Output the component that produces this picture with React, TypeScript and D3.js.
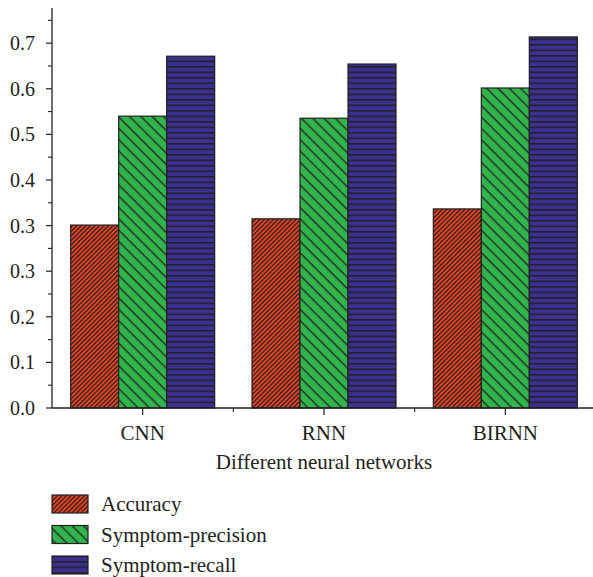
import React from 'react';
import * as d3 from 'd3';

const categories = ['CNN', 'RNN', 'BIRNN'];
const seriesNames = ['Accuracy', 'Symptom-precision', 'Symptom-recall'];
const accuracy = [0.351, 0.363, 0.382];
const precision = [0.560, 0.556, 0.614];
const recall = [0.675, 0.660, 0.712];
const yTickValues = [0, 0.0875, 0.175, 0.2625, 0.35, 0.4375, 0.525, 0.6125, 0.7];
const yTickLabels = ['0.0', '0.1', '0.2', '0.3', '0.3', '0.4', '0.5', '0.6', '0.7'];

const fills = ['#ee4524', '#32b44c', '#3b3192'];
const patternIds = ['hatch-acc', 'hatch-prec', 'hatch-rec'];
const font = '"Liberation Serif", "DejaVu Serif", serif';

const App: React.FC = () => {
    document.body.style.margin = '0';

    const width = 593;
    const height = 577;
    const plot = { left: 52, right: 596, top: 8, bottom: 408 };

    const y = d3.scaleLinear().domain([0, 0.7675]).range([plot.bottom, plot.top]);
    const x0 = d3.scaleBand().domain(categories).range([plot.left, plot.right]).padding(0);
    const groupWidth = 144;
    const x1 = d3.scaleBand().domain(seriesNames).range([0, groupWidth]).padding(0);
    const groupOffset = (x0.bandwidth() - groupWidth) / 2;

    const series = [accuracy, precision, recall];

    // minor ticks halfway between the major ones
    const minorY: number[] = [];
    const step = yTickValues[1] - yTickValues[0];
    for (let i = 0; i < yTickValues.length; i++) {
        const m = yTickValues[i] + step / 2;
        if (y(m) >= plot.top) minorY.push(m);
    }

    return (
        <svg width={width} height={height} style={{ display: 'block', background: '#fff' }}>
            <defs>
                <pattern id={patternIds[0]} patternUnits="userSpaceOnUse" width={8} height={3.2} patternTransform="rotate(-45)">
                    <rect width={8} height={3.2} fill={fills[0]} />
                    <line x1={0} x2={8} y1={0.7} y2={0.7} stroke="#231f20" strokeWidth={1.3} />
                </pattern>
                <pattern id={patternIds[1]} patternUnits="userSpaceOnUse" width={10} height={8} patternTransform="rotate(45)">
                    <rect width={10} height={8} fill={fills[1]} />
                    <line x1={0} x2={10} y1={0.7} y2={0.7} stroke="#231f20" strokeWidth={1.3} />
                </pattern>
                <pattern id={patternIds[2]} patternUnits="userSpaceOnUse" width={10} height={5.5}>
                    <rect width={10} height={5.5} fill={fills[2]} />
                    <line x1={0} x2={10} y1={0.8} y2={0.8} stroke="#231f20" strokeWidth={1.5} />
                </pattern>
            </defs>

            {/* bars */}
            {categories.map((c, ci) => (
                <g key={c} transform={`translate(${(x0(c) || 0) + groupOffset},0)`}>
                    {series.map((vals, si) => (
                        <rect
                            key={si}
                            x={x1(seriesNames[si]) || 0}
                            y={y(vals[ci])}
                            width={x1.bandwidth()}
                            height={y(0) - y(vals[ci])}
                            fill={`url(#${patternIds[si]})`}
                            stroke="#231f20"
                            strokeWidth={1.2}
                        />
                    ))}
                </g>
            ))}

            {/* y axis */}
            <line x1={plot.left} x2={plot.left} y1={plot.top} y2={plot.bottom} stroke="#231f20" strokeWidth={1.3} />
            {yTickValues.map((v, i) => (
                <g key={i}>
                    <line x1={plot.left - 6} x2={plot.left} y1={y(v)} y2={y(v)} stroke="#231f20" strokeWidth={1.2} />
                    <text x={35} y={y(v)} dy="0.35em" textAnchor="end" fontFamily={font} fontSize={20} fill="#231f20">
                        {yTickLabels[i]}
                    </text>
                </g>
            ))}
            {minorY.map((v, i) => (
                <line key={i} x1={plot.left - 4} x2={plot.left} y1={y(v)} y2={y(v)} stroke="#231f20" strokeWidth={1.1} />
            ))}

            {/* x axis */}
            <line x1={plot.left} x2={plot.right} y1={plot.bottom} y2={plot.bottom} stroke="#231f20" strokeWidth={1.3} />
            {categories.map((c) => {
                const cx = (x0(c) || 0) + x0.bandwidth() / 2;
                return (
                    <g key={c}>
                        <line x1={cx} x2={cx} y1={plot.bottom} y2={plot.bottom + 7} stroke="#231f20" strokeWidth={1.2} />
                        <text x={cx} y={440} textAnchor="middle" fontFamily={font} fontSize={21} fill="#231f20">
                            {c}
                        </text>
                    </g>
                );
            })}
            {categories.slice(1).map((c) => {
                const bx = x0(c) || 0;
                return <line key={c} x1={bx} x2={bx} y1={plot.bottom} y2={plot.bottom + 4} stroke="#231f20" strokeWidth={1.1} />;
            })}
            <text x={(plot.left + plot.right) / 2} y={469} textAnchor="middle" fontFamily={font} fontSize={21} fill="#231f20">
                Different neural networks
            </text>

            {/* legend */}
            {seriesNames.map((name, i) => {
                const top = 495 + i * 30.5;
                return (
                    <g key={name}>
                        <rect x={52} y={top} width={36} height={18} fill={`url(#${patternIds[i]})`} stroke="#231f20" strokeWidth={1.2} />
                        <text x={101} y={top + 16} fontFamily={font} fontSize={21} fill="#231f20">
                            {name}
                        </text>
                    </g>
                );
            })}
        </svg>
    );
};

export default App;
